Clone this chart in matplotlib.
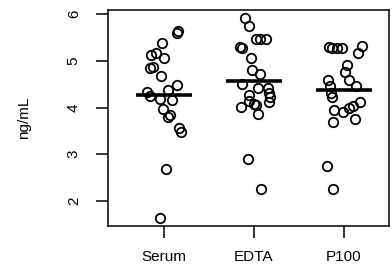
import numpy as np
import matplotlib
matplotlib.use('Agg')
import matplotlib.pyplot as plt

plt.rcParams['font.family'] = ['Liberation Sans', 'DejaVu Sans']

groups = ['Serum', 'EDTA', 'P100']

# values (ng/mL) and horizontal jitter (fraction of group spacing)
serum = [5.64, 5.59, 5.39, 5.12, 5.17, 5.05, 4.84, 4.87, 4.67, 4.48, 4.37,
         4.33, 4.25, 4.18, 4.16, 3.96, 3.85, 3.80, 3.57, 3.47, 2.69, 1.64]
serum_jit = [0.16, 0.14, -0.02, -0.14, -0.09, 0.0, -0.15, -0.12, -0.03, 0.14, 0.04,
             -0.19, -0.16, -0.04, 0.09, -0.01, 0.07, 0.05, 0.17, 0.19, 0.02, -0.04]

edta = [5.91, 5.75, 5.47, 5.47, 5.47, 5.30, 5.27, 5.05, 4.80, 4.71, 4.51, 4.41,
        4.41, 4.32, 4.22, 4.26, 4.12, 4.14, 4.08, 4.01, 4.05, 3.86, 2.89, 2.25]
edta_jit = [-0.10, -0.05, 0.02, 0.07, 0.13, -0.15, -0.13, -0.03, -0.02, 0.07, -0.13, 0.05,
            0.16, 0.17, 0.18, -0.05, 0.17, -0.05, 0.0, -0.14, 0.02, 0.05, -0.07, 0.08]

p100 = [5.30, 5.28, 5.28, 5.27, 5.31, 5.16, 4.91, 4.77, 4.59, 4.58, 4.47, 4.45,
        4.30, 4.22, 4.12, 4.03, 3.98, 3.91, 3.95, 3.70, 3.76, 2.75, 2.25]
p100_jit = [-0.17, -0.13, -0.08, -0.02, 0.20, 0.16, 0.03, 0.01, 0.06, -0.18, -0.16, 0.13,
            -0.14, -0.13, 0.18, 0.10, 0.06, -0.01, -0.11, -0.12, 0.12, -0.19, -0.12]

centre = [4.27, 4.57, 4.37]

data = [serum, edta, p100]
jitter = [serum_jit, edta_jit, p100_jit]

fig = plt.figure(figsize=(3.92, 2.73), dpi=100)
ax = fig.add_axes([108 / 392, 1 - 226 / 273, 281 / 392, 216 / 273])

for i, (vals, jit) in enumerate(zip(data, jitter)):
    x = i + 1 + np.array(jit)
    ax.plot(x, vals, 'o', ms=6.8, mfc='none', mec='black', mew=1.3)
    ax.plot([i + 1 - 0.31, i + 1 + 0.31], [centre[i], centre[i]], color='black',
            lw=2.6, solid_capstyle='butt')

ax.set_xlim(0.378, 3.5)
ax.set_ylim(1.465, 6.086)
ax.set_xticks([1, 2, 3])
ax.set_xticklabels(groups)
ax.set_yticks([2, 3, 4, 5, 6])
ax.set_yticklabels(['2', '3', '4', '5', '6'], rotation=90, va='center')

for s in ax.spines.values():
    s.set_linewidth(1.1)
ax.tick_params(axis='both', length=8.6, width=1.1, labelsize=11)
ax.tick_params(axis='x', pad=8.5)
ax.tick_params(axis='y', pad=11)

fig.text(24 / 392, 1 - 118 / 273, 'ng/mL', rotation=90, ha='center', va='center', fontsize=11)

fig.savefig('out.png', dpi=100)
